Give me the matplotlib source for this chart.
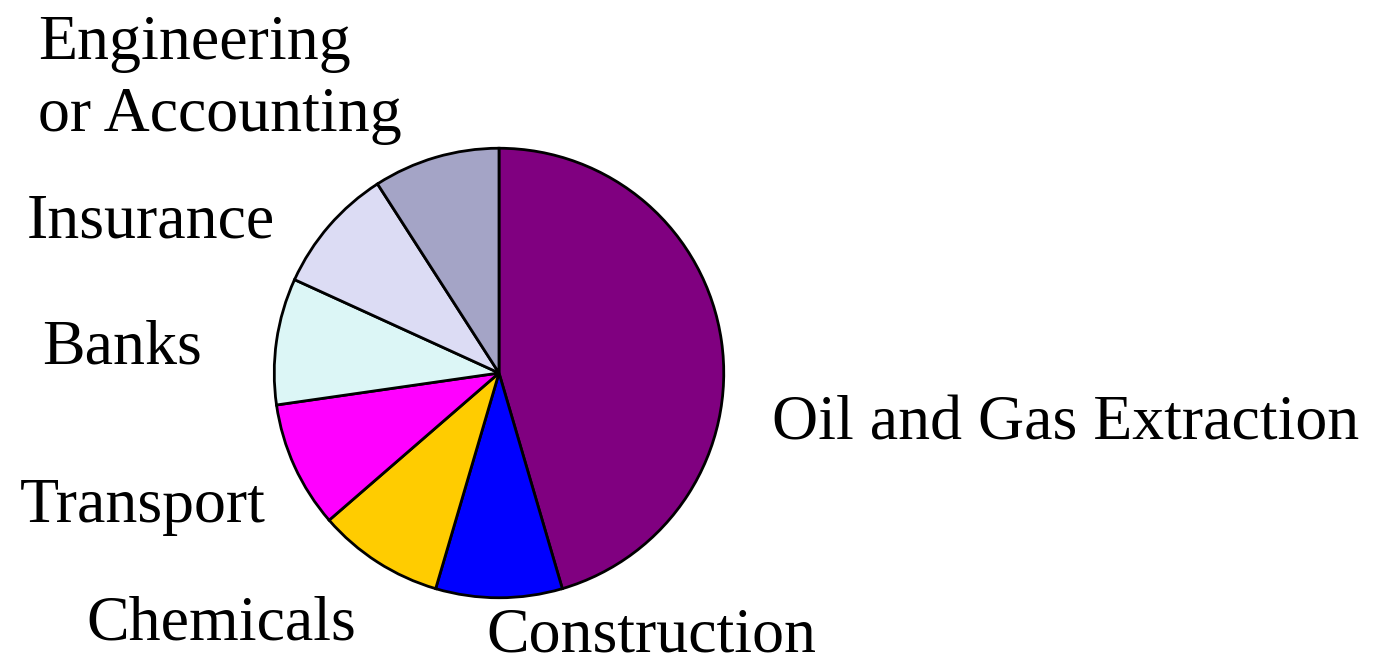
import matplotlib
matplotlib.use("Agg")
import matplotlib.pyplot as plt

# ---- data ----
categories = ["Oil and Gas Extraction", "Construction", "Chemicals", "Transport",
              "Banks", "Insurance", "Engineering\nor Accounting"]
shares = [45.5, 9.1, 9.1, 9.1, 9.1, 9.1, 9.1]
colors = ["#800080", "#0000FF", "#FFCC00", "#FF00FF", "#DCF6F6", "#DCDCF4", "#A4A4C6"]

# label placement (pixels from top-left: left x, baseline y)
label_pos = {
    "Oil and Gas Extraction": (772, 440),
    "Construction": (486, 652),
    "Chemicals": (86, 640),
    "Transport": (20, 522),
    "Banks": (42, 364),
    "Insurance": (27, 238),
}
eng_lines = [("Engineering", 38, 59), ("or Accounting", 38, 131)]

W, H = 1379, 665
fig = plt.figure(figsize=(W / 100, H / 100), dpi=100)
fig.patch.set_facecolor("white")

cx, cy, r = 499, 373, 227
ax = fig.add_axes([(cx - r) / W, (H - cy - r) / H, 2 * r / W, 2 * r / H])
ax.pie(shares, colors=colors, startangle=90, counterclock=False, radius=1.0,
       wedgeprops=dict(edgecolor="black", linewidth=2.0))
ax.set_xlim(-1.01, 1.01)
ax.set_ylim(-1.01, 1.01)
ax.set_aspect("equal")
ax.axis("off")

FS = 46
font = dict(family=["Liberation Serif", "DejaVu Serif"], fontsize=FS, color="black",
            ha="left", va="baseline")

for name, (x, y) in label_pos.items():
    fig.text(x / W, 1 - y / H, name, **font)
for txt, x, y in eng_lines:
    fig.text(x / W, 1 - y / H, txt, **font)

fig.savefig("out.png", dpi=100, facecolor="white")
